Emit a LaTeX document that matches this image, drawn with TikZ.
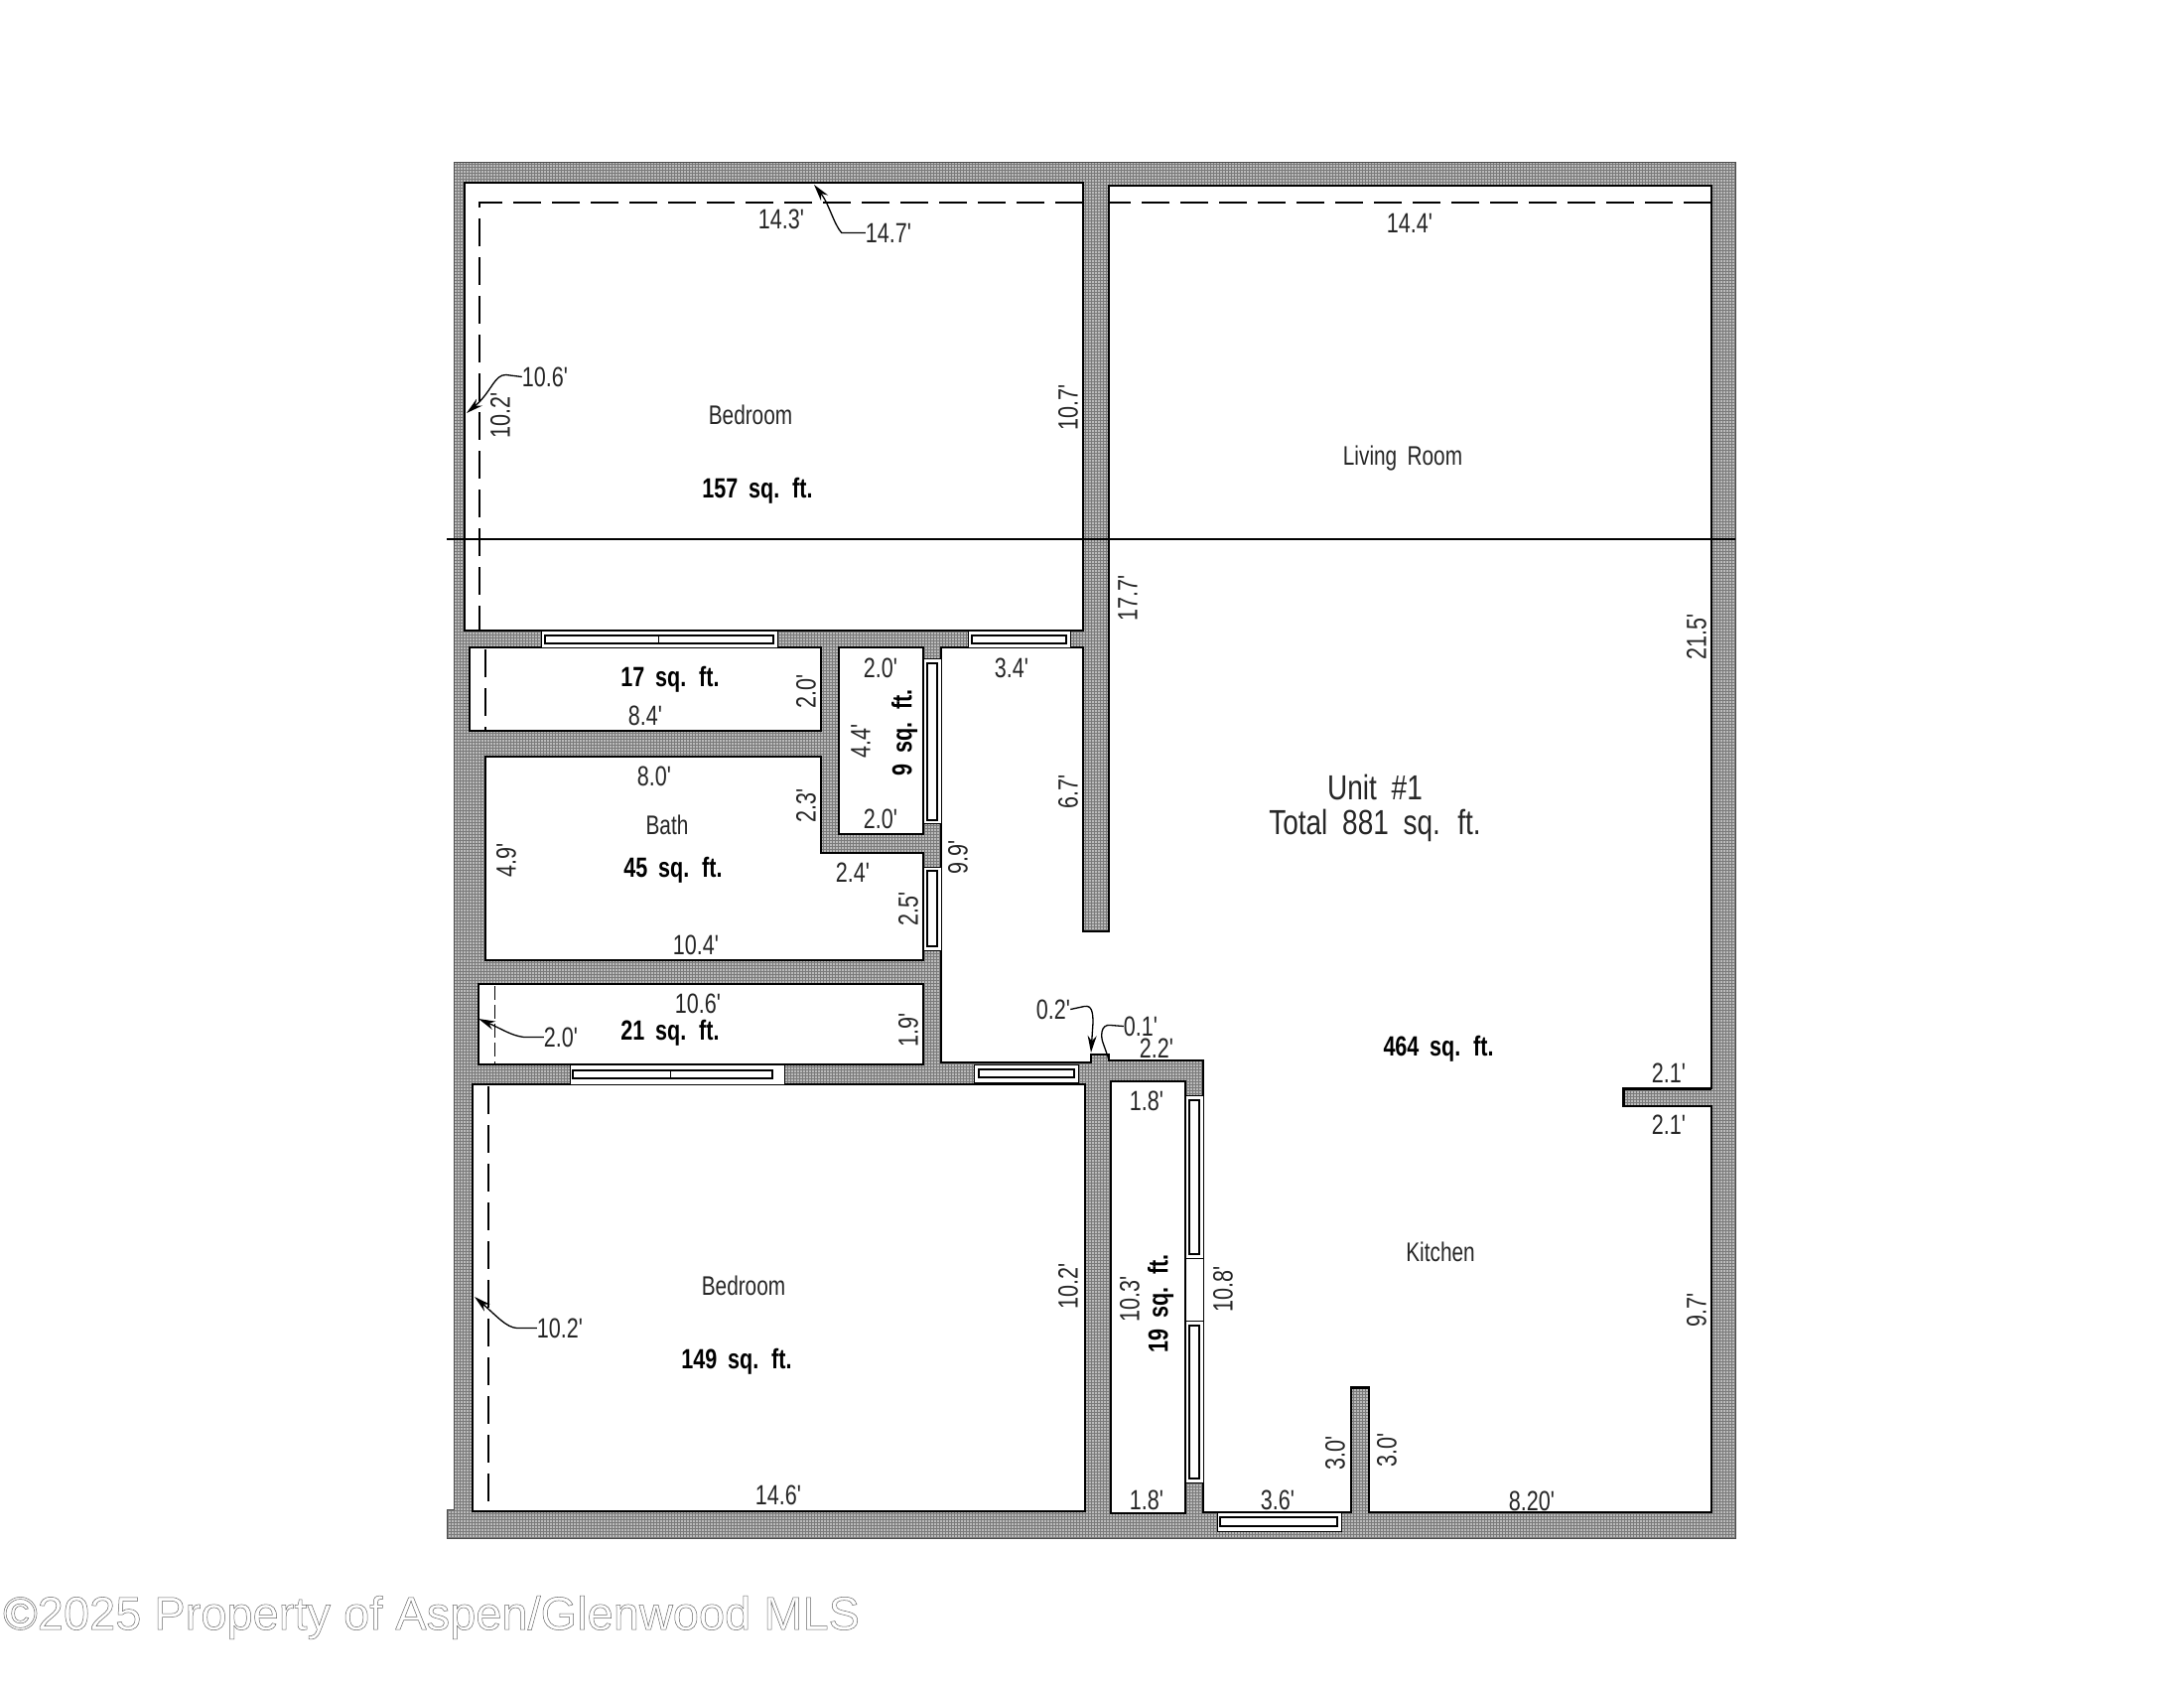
\documentclass[tikz,border=0pt]{standalone}
\usepackage{fontspec}
\usetikzlibrary{patterns.meta,arrows.meta}
\newfontfamily\planfont[FakeStretch=0.77,WordSpace=1.8]{Liberation Sans}
\newfontfamily\unitfont[FakeStretch=0.8,WordSpace=1.9]{Liberation Sans}
\newfontfamily\markfont{Liberation Sans}
\tikzset{
  wallfill/.style={preaction={fill=black!52},pattern={Dots[distance=3pt,radius=.8pt]},pattern color=white,draw=black!70,line width=1pt},
  roomfill/.style={fill=white,draw=black,line width=1.6pt,line join=miter},
  winouter/.style={fill=white,draw=black,line width=1pt},
  wininner/.style={fill=white,draw=black,line width=1.8pt},
  winsplit/.style={draw=black,line width=1pt},
  dashline/.style={draw=black,line width=1.3pt,dash pattern=on 28pt off 11pt},
  dashshort/.style={draw=black,line width=1pt,dash pattern=on 14pt off 5pt},
  cutline/.style={draw=black,line width=1.5pt},
  stubedge/.style={draw=black,line width=3pt},
  leader/.style={draw=black,line width=1.3pt},
  leadarrow/.style={leader,-{Stealth[length=17pt,width=9pt]}},
  dimbase/.style={font=\planfont\fontsize{28}{28}\selectfont,inner sep=0pt,text=black!85},
  dim/.style={dimbase,yshift=-0.5pt},
  dimv/.style={dimbase,rotate=90},
  areabase/.style={font=\planfont\bfseries\fontsize{28}{28}\selectfont,inner sep=0pt,text=black},
  area/.style={areabase,yshift=-2.5pt},
  areav/.style={areabase,rotate=90},
  roomname/.style={font=\planfont\fontsize{27}{27}\selectfont,inner sep=0pt,text=black!85,yshift=0pt},
  unitlabel/.style={font=\unitfont\fontsize{35}{35}\selectfont,inner sep=0pt,text=black!85},
  watermark/.style={font=\markfont\fontsize{47}{47}\selectfont,inner sep=0pt,anchor=west,text=black!60}
}
\begin{document}
\begin{tikzpicture}[x=1pt,y=-1pt]
\useasboundingbox (0,0) rectangle (2200,1700);
% wall mass
\path[wallfill] (457,163) -- (1748,163) -- (1748,1549) -- (450,1549) -- (450,1520) -- (457,1520) -- cycle;
% rooms
\path[roomfill] (468,184) rectangle (1091,635);
\path[roomfill] (473,652) rectangle (827,736);
\path[roomfill] (845,652) rectangle (930,840);
\path[roomfill] (489,762) -- (827,762) -- (827,859) -- (930,859) -- (930,967) -- (489,967) -- cycle;
\path[roomfill] (482,991) rectangle (930,1072);
\path[roomfill] (476,1092) rectangle (1093,1522);
\path[roomfill] (1119,1089) rectangle (1194,1524);
\path[roomfill] (1117,187) -- (1724,187) -- (1724,1096) -- (1635,1096) -- (1635,1114) -- (1724,1114) -- (1724,1523) -- (1379,1523) -- (1379,1397) -- (1361,1397) -- (1361,1523) -- (1212,1523) -- (1212,1068) -- (1117,1068) -- (1117,1062) -- (1099,1062) -- (1099,1070) -- (948,1070) -- (948,652) -- (1091,652) -- (1091,938) -- (1117,938) -- cycle;
% heavier stub edges
\coordinate (stA) at (1635,1114);
\coordinate (stB) at (1635,1096);
\coordinate (stC) at (1724,1096);
\coordinate (stD) at (1361,1397);
\coordinate (stE) at (1379,1397);
\draw[stubedge] (stA) -- (stB) -- (stC) (stD) -- (stE);
% windows: horizontal
\path[winouter] (545,635) rectangle (783,652);
\path[wininner] (549,640) rectangle (779,648);
\draw[winsplit] (663,640) -- (663,648);
\path[winouter] (975,635) rectangle (1078,652);
\path[wininner] (979,640) rectangle (1074,648);
\path[winouter] (574,1072) rectangle (790,1092);
\path[wininner] (577,1078) rectangle (778,1086);
\draw[winsplit] (675,1078) -- (675,1086);
\path[winouter] (981,1072) rectangle (1086,1090);
\path[wininner] (986,1077) rectangle (1082,1085);
\path[winouter] (1226,1523) rectangle (1351,1542);
\path[wininner] (1229,1528) rectangle (1347,1537);
% windows: vertical
\path[winouter] (930,663) rectangle (948,829);
\path[wininner] (934,668) rectangle (944,826);
\path[winouter] (930,873) rectangle (948,957);
\path[wininner] (934,877) rectangle (944,953);
\path[winouter] (1194,1103) rectangle (1212,1267);
\path[wininner] (1198,1108) rectangle (1208,1263);
\path[winouter] (1194,1267) rectangle (1212,1330);
\path[winouter] (1194,1330) rectangle (1212,1493);
\path[wininner] (1198,1335) rectangle (1208,1489);
% dashed dimension lines
\coordinate (dA) at (483,204);
\coordinate (dB) at (1091,204);
\coordinate (dC) at (483,635);
\coordinate (dD) at (1724,204);
\coordinate (dE) at (1117,204);
\draw[dashline] (dB) -- (dA) -- (dC);
\draw[dashline] (dD) -- (dE);
\coordinate (dF) at (489,654);
\coordinate (dG) at (489,735);
\draw[dashline] (dF) -- (dG);
\coordinate (dH) at (498,993);
\coordinate (dI) at (498,1071);
\draw[dashshort] (dH) -- (dI);
\coordinate (dJ) at (492,1094);
\coordinate (dK) at (492,1521);
\draw[dashline] (dJ) -- (dK);
% long horizontal line
\coordinate (cutL) at (450,543);
\coordinate (cutR) at (1748,543);
\draw[cutline] (cutL) -- (cutR);
% labels
\node[dim] (t143) at (787,220) {14.3'};
\node[dim] (t147) at (895,234) {14.7'};
\node[dim] (t144) at (1420,224) {14.4'};
\node[dim] (t106a) at (549,379) {10.6'};
\node[dimv] (t102a) at (504,418) {10.2'};
\node[dimv] (t107) at (1076,410) {10.7'};
\node[roomname] (bed1) at (756,418) {Bedroom};
\node[area] (a157) at (763,492) {157 sq. ft.};
\node[roomname,yshift=-2pt] (living) at (1413,460) {Living Room};
\node[dimv] (t177) at (1136,602) {17.7'};
\node[dimv] (t215) at (1709,641) {21.5'};
\node[area] (a17) at (675,682) {17 sq. ft.};
\node[dimv] (t20a) at (812,696) {2.0'};
\node[dim] (t84) at (650,720) {8.4'};
\node[dim] (t20b) at (887,672) {2.0'};
\node[dim] (t34) at (1019,672) {3.4'};
\node[dimv] (t44) at (867,746) {4.4'};
\node[areav] (a9) at (911,738) {9 sq. ft.};
\node[dim] (t80) at (659,781) {8.0'};
\node[dimv] (t23) at (812,811) {2.3'};
\node[dim] (t20c) at (887,824) {2.0'};
\node[dimv] (t67) at (1076,797) {6.7'};
\node[roomname] (bath) at (672,831) {Bath};
\node[dimv] (t49) at (510,866) {4.9'};
\node[area] (a45) at (678,874) {45 sq. ft.};
\node[dim] (t24) at (859,878) {2.4'};
\node[dimv] (t99) at (965,863) {9.9'};
\node[dimv] (t25) at (915,915) {2.5'};
\node[dim] (t104) at (701,951) {10.4'};
\node[unitlabel] (unit) at (1385,793) {Unit \#1};
\node[unitlabel] (total) at (1385,831) {Total 881 sq. ft.};
\node[dim] (t106b) at (703,1010) {10.6'};
\node[area] (a21) at (675,1038) {21 sq. ft.};
\node[dim] (t20d) at (565,1044) {2.0'};
\node[dimv] (t19) at (915,1037) {1.9'};
\node[dim] (t02) at (1061,1016) {0.2'};
\node[dim] (t01) at (1149,1033) {0.1'};
\node[dim] (t22) at (1165,1055) {2.2'};
\node[area] (a464) at (1449,1054) {464 sq. ft.};
\node[dim] (t21a) at (1681,1080) {2.1'};
\node[dim] (t21b) at (1681,1132) {2.1'};
\node[dim] (t18a) at (1155,1108) {1.8'};
\node[roomname] (bed2) at (749,1295) {Bedroom};
\node[dimv] (t102b) at (1076,1295) {10.2'};
\node[dimv] (t103) at (1138,1308) {10.3'};
\node[areav] (a19) at (1169,1313) {19 sq. ft.};
\node[dimv] (t108) at (1232,1298) {10.8'};
\node[roomname] (kitchen) at (1451,1261) {Kitchen};
\node[dim] (t102c) at (564,1337) {10.2'};
\node[area] (a149) at (742,1369) {149 sq. ft.};
\node[dimv] (t97) at (1709,1319) {9.7'};
\node[dimv] (t30a) at (1345,1463) {3.0'};
\node[dimv] (t30b) at (1397,1460) {3.0'};
\node[dim] (t146) at (784,1505) {14.6'};
\node[dim] (t18b) at (1155,1510) {1.8'};
\node[dim] (t36) at (1287,1510) {3.6'};
\node[dim] (t820) at (1543,1511) {8.20'};
% leaders
\coordinate (tipA) at (820,186);
\coordinate (tipB) at (470,416);
\coordinate (tipC) at (482,1026);
\coordinate (tipD) at (478,1306);
\coordinate (tipE) at (1099,1060);
\coordinate (tipF) at (1117,1067);
\draw[leadarrow] (t147.west) -- ++(-24,0) .. controls (840,226) and (835,205) .. (tipA);
\draw[leadarrow] (t106a.west) -- ++(-16,-2) .. controls (498,377) and (495,395) .. (tipB);
\draw[leadarrow] (t20d.west) -- ++(-20,0) .. controls (515,1043) and (505,1036) .. (tipC);
\draw[leadarrow] (t102c.west) -- ++(-20,0) .. controls (510,1337) and (500,1325) .. (tipD);
\draw[leadarrow] (t02.east) -- ++(14,-3) .. controls (1100,1012) and (1101,1020) .. (1101,1030) -- (tipE);
\draw[leader] (t01.west) -- ++(-13,-1) .. controls (1108,1031) and (1109,1045) .. (1111,1050) -- (tipF);
% watermark
\node[watermark] (mark) at (3,1629) {\special{pdf:code 1 Tr 0.5 w}©2025 Property of Aspen/Glenwood MLS\special{pdf:code 0 Tr}};
\end{tikzpicture}
\end{document}
